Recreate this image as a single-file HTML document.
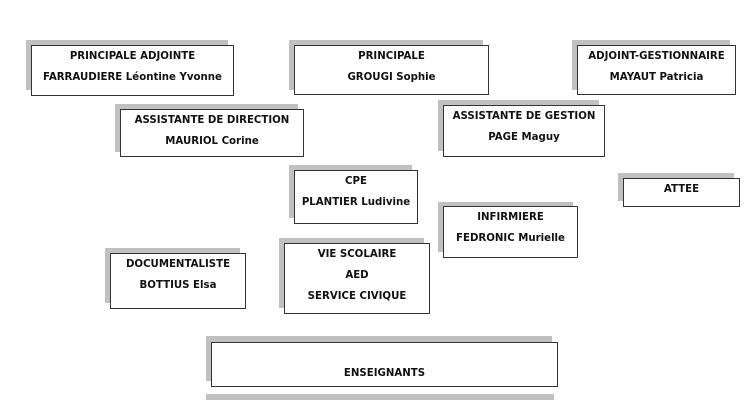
<!DOCTYPE html>
<html><head><meta charset="utf-8"><style>
body{margin:0;width:750px;height:400px;background:#fff;position:relative;overflow:hidden;font-family:"DejaVu Sans","Liberation Sans",sans-serif;font-weight:bold;font-size:10.2px;color:#111}
.s{position:absolute;background:#c0c0c0}
.b{position:absolute;background:#fff;border:1px solid #333;box-sizing:border-box;text-align:center;line-height:21px;padding-top:0;white-space:nowrap}
</style></head><body>
<div class="s" style="left:26px;top:40px;width:202px;height:50px"></div>
<div class="b" style="left:31px;top:45px;width:203px;height:51px">PRINCIPALE ADJOINTE<br>FARRAUDIERE Léontine Yvonne</div>

<div class="s" style="left:289px;top:40px;width:194px;height:50px"></div>
<div class="b" style="left:294px;top:45px;width:195px;height:50px">PRINCIPALE<br>GROUGI Sophie</div>

<div class="s" style="left:572px;top:40px;width:158px;height:50px"></div>
<div class="b" style="left:577px;top:45px;width:159px;height:50px">ADJOINT-GESTIONNAIRE<br>MAYAUT Patricia</div>

<div class="s" style="left:115px;top:104px;width:183px;height:48px"></div>
<div class="b" style="left:120px;top:109px;width:184px;height:48px">ASSISTANTE DE DIRECTION<br>MAURIOL Corine</div>

<div class="s" style="left:438px;top:100px;width:161px;height:51px"></div>
<div class="b" style="left:443px;top:105px;width:162px;height:52px">ASSISTANTE DE GESTION<br>PAGE Maguy</div>

<div class="s" style="left:289px;top:165px;width:123px;height:53px"></div>
<div class="b" style="left:294px;top:170px;width:124px;height:54px">CPE<br>PLANTIER Ludivine</div>

<div class="s" style="left:618px;top:173px;width:116px;height:28px"></div>
<div class="b" style="left:623px;top:178px;width:117px;height:29px">ATTEE</div>

<div class="s" style="left:438px;top:202px;width:135px;height:50px"></div>
<div class="b" style="left:443px;top:206px;width:135px;height:52px">INFIRMIERE<br>FEDRONIC Murielle</div>

<div class="s" style="left:105px;top:248px;width:135px;height:55px"></div>
<div class="b" style="left:110px;top:253px;width:136px;height:56px">DOCUMENTALISTE<br>BOTTIUS Elsa</div>

<div class="s" style="left:279px;top:238px;width:145px;height:70px"></div>
<div class="b" style="left:284px;top:243px;width:146px;height:71px">VIE SCOLAIRE<br>AED<br>SERVICE CIVIQUE</div>

<div class="s" style="left:206px;top:336px;width:346px;height:45px"></div>
<div class="b" style="left:211px;top:342px;width:347px;height:45px;padding-top:20px">ENSEIGNANTS</div>

<div class="s" style="left:206px;top:394px;width:348px;height:6px"></div>
</body></html>
